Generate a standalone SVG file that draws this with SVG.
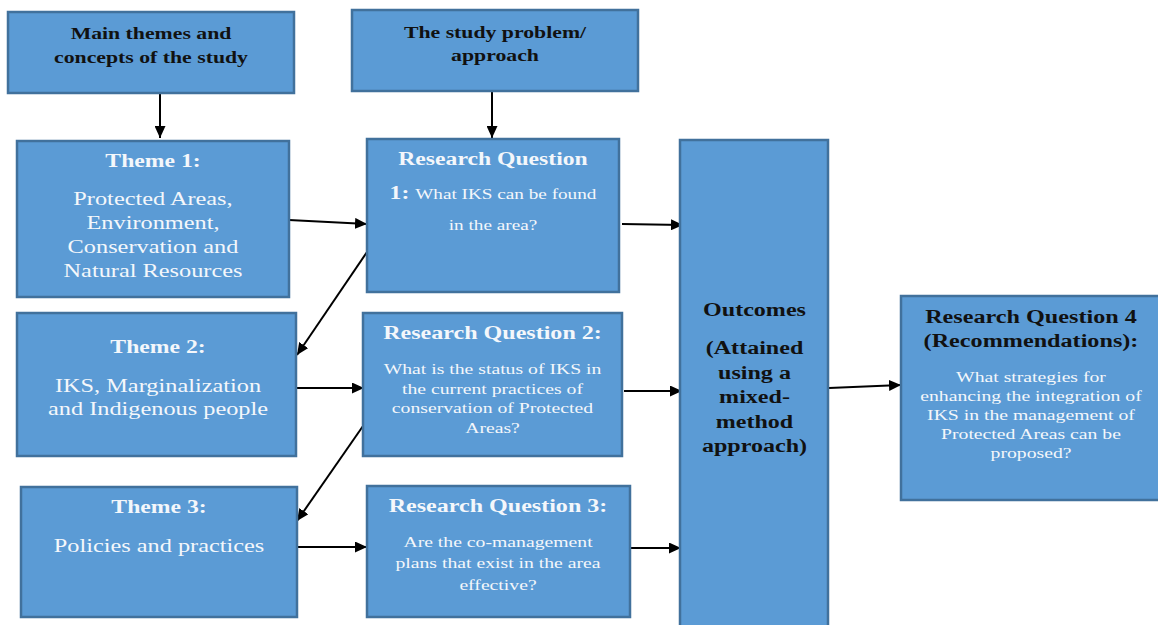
<svg xmlns="http://www.w3.org/2000/svg" width="1158" height="625" viewBox="0 0 1158 625">
  <defs>
    <marker id="arrow" markerUnits="userSpaceOnUse" markerWidth="13" markerHeight="11" refX="12" refY="5.5" orient="auto">
      <path d="M0,0 L12,5.5 L0,11 z" fill="#000"/>
    </marker>
    <style>
      .box { fill: #5B9BD5; stroke: #41719C; stroke-width: 2.5; }
      .head { font-family: "Liberation Serif", "Times New Roman", serif; font-weight: bold; text-anchor: middle; }
      .body { font-family: "Liberation Serif", "Times New Roman", serif; text-anchor: middle; fill: #F4F7FB; }
      .dark { fill: #111111; }
      .light { fill: #F4F7FB; }
      .conn { stroke: #000; stroke-width: 2; fill: none; marker-end: url(#arrow); }
    </style>
  </defs>
  <rect width="1158" height="625" fill="#FFFFFF"/>

  <!-- connectors -->
  <g id="connectors">
    <line class="conn" x1="160" y1="94" x2="160" y2="138"/>
    <line class="conn" x1="492" y1="92" x2="492" y2="138"/>
    <line class="conn" x1="289" y1="220" x2="367" y2="224"/>
    <line class="conn" x1="367" y1="252" x2="297" y2="355"/>
    <line class="conn" x1="622" y1="224" x2="683" y2="225"/>
    <line class="conn" x1="297" y1="388" x2="364" y2="388"/>
    <line class="conn" x1="363" y1="426" x2="297" y2="521"/>
    <line class="conn" x1="624" y1="391" x2="682" y2="391"/>
    <line class="conn" x1="297" y1="547" x2="367" y2="547"/>
    <line class="conn" x1="631" y1="548" x2="681" y2="548"/>
    <line class="conn" x1="829" y1="388" x2="901" y2="385"/>
  </g>

  <g id="themes-header">
    <rect class="box" x="8" y="12" width="286" height="81"/>
    <g transform="translate(151 0) scale(1.28 1)">
      <text class="head dark" x="0" y="39" font-size="17">Main themes and</text>
      <text class="head dark" x="0" y="63" font-size="17">concepts of the study</text>
    </g>
  </g>

  <g id="problem-header">
    <rect class="box" x="352" y="10" width="286" height="81"/>
    <g transform="translate(495 0) scale(1.28 1)">
      <text class="head dark" x="0" y="38" font-size="17">The study problem/</text>
      <text class="head dark" x="0" y="61" font-size="17">approach</text>
    </g>
  </g>

  <g id="theme1">
    <rect class="box" x="17" y="141" width="272" height="156"/>
    <g transform="translate(153 0) scale(1.28 1)">
      <text class="head light" x="0" y="167" font-size="18.5">Theme 1:</text>
      <text class="body" x="0" y="205" font-size="19">Protected Areas,</text>
      <text class="body" x="0" y="229" font-size="19">Environment,</text>
      <text class="body" x="0" y="253" font-size="19">Conservation and</text>
      <text class="body" x="0" y="277" font-size="19">Natural Resources</text>
    </g>
  </g>

  <g id="rq1">
    <rect class="box" x="367" y="139" width="252" height="153"/>
    <g transform="translate(493 0) scale(1.28 1)">
      <text class="head light" x="0" y="165" font-size="18.5">Research Question</text>
      <text class="body" x="0" y="199" font-size="15"><tspan font-weight="bold" font-size="18.5">1: </tspan>What IKS can be found</text>
      <text class="body" x="0" y="230" font-size="15">in the area?</text>
    </g>
  </g>

  <g id="theme2">
    <rect class="box" x="17" y="313" width="279" height="143"/>
    <g transform="translate(158 0) scale(1.28 1)">
      <text class="head light" x="0" y="353" font-size="18.5">Theme 2:</text>
      <text class="body" x="0" y="392" font-size="19">IKS, Marginalization</text>
      <text class="body" x="0" y="415" font-size="19">and Indigenous people</text>
    </g>
  </g>

  <g id="rq2">
    <rect class="box" x="363" y="313" width="259" height="143"/>
    <g transform="translate(492.5 0) scale(1.28 1)">
      <text class="head light" x="0" y="339" font-size="18.8">Research Question 2:</text>
      <text class="body" x="0" y="374" font-size="15.4">What is the status of IKS in</text>
      <text class="body" x="0" y="394" font-size="15.4">the current practices of</text>
      <text class="body" x="0" y="413" font-size="15.4">conservation of Protected</text>
      <text class="body" x="0" y="433" font-size="15.4">Areas?</text>
    </g>
  </g>

  <g id="theme3">
    <rect class="box" x="21" y="487" width="276" height="130"/>
    <g transform="translate(159 0) scale(1.28 1)">
      <text class="head light" x="0" y="513" font-size="18.5">Theme 3:</text>
      <text class="body" x="0" y="552" font-size="19">Policies and practices</text>
    </g>
  </g>

  <g id="rq3">
    <rect class="box" x="367" y="486" width="263" height="131"/>
    <g transform="translate(498 0) scale(1.28 1)">
      <text class="head light" x="0" y="512" font-size="18.8">Research Question 3:</text>
      <text class="body" x="0" y="547" font-size="15.4">Are the co-management</text>
      <text class="body" x="0" y="568" font-size="15.4">plans that exist in the area</text>
      <text class="body" x="0" y="590" font-size="15.4">effective?</text>
    </g>
  </g>

  <g id="outcomes">
    <rect class="box" x="680" y="140" width="148" height="500"/>
    <g transform="translate(754.5 0) scale(1.28 1)">
      <text class="head dark" x="0" y="316" font-size="18.8">Outcomes</text>
      <text class="head dark" x="0" y="354" font-size="18.8">(Attained</text>
      <text class="head dark" x="0" y="379" font-size="18.8">using a</text>
      <text class="head dark" x="0" y="403" font-size="18.8">mixed-</text>
      <text class="head dark" x="0" y="428" font-size="18.8">method</text>
      <text class="head dark" x="0" y="452" font-size="18.8">approach)</text>
    </g>
  </g>

  <g id="rq4">
    <rect class="box" x="901" y="296" width="270" height="204"/>
    <g transform="translate(1031 0) scale(1.28 1)">
      <text class="head dark" x="0" y="323" font-size="18.9">Research Question 4</text>
      <text class="head dark" x="0" y="347" font-size="18.9">(Recommendations):</text>
      <text class="body" x="0" y="382" font-size="15.4">What strategies for</text>
      <text class="body" x="0" y="401" font-size="15.4">enhancing the integration of</text>
      <text class="body" x="0" y="420" font-size="15.4">IKS in the management of</text>
      <text class="body" x="0" y="439" font-size="15.4">Protected Areas can be</text>
      <text class="body" x="0" y="458" font-size="15.4">proposed?</text>
    </g>
  </g>
</svg>
